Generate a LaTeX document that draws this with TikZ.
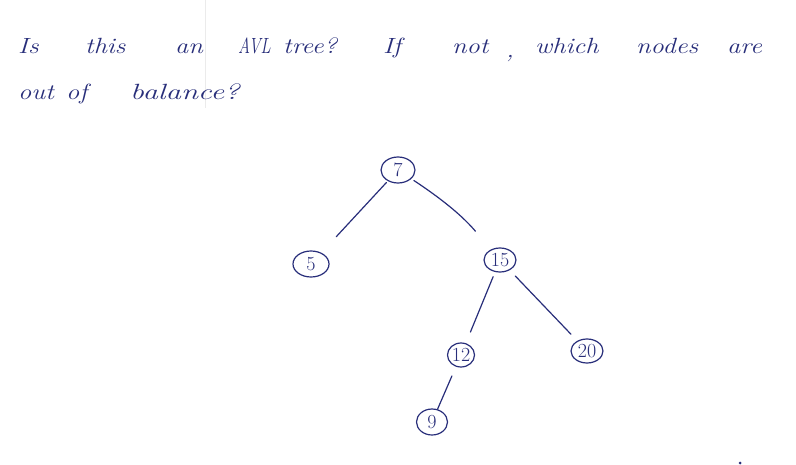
\documentclass[tikz,border=0pt]{standalone}
\usetikzlibrary{shapes.geometric}
\definecolor{ink}{RGB}{40,46,122}
\newcommand{\hw}[2][1.2]{\scalebox{#1}[1]{#2}}
\begin{document}
\begin{tikzpicture}[x=1pt,y=-1pt,
  word/.style={text=ink,font=\fontsize{22}{24}\selectfont\itshape,anchor=base west,inner sep=0pt},
  tnode/.style={ellipse,draw=ink,line width=1.2pt,text=ink,inner sep=0pt,font=\fontsize{20}{20}\selectfont},
  edge/.style={draw=ink,line width=1.2pt,line cap=round}]
\useasboundingbox (0,0) rectangle (796,465);
\fill[white] (0,0) rectangle (796,465);
\draw[black!8,line width=0.6pt] (205,0) -- (205,108);
% question text, line 1
\node[word] (w1) at (18,54) {\hw{Is}};
\node[word] (w2) at (85,54) {\hw{this}};
\node[word] (w3) at (175,54) {\hw{an}};
\node[word] (w4) at (238,54) {\hw[0.75]{AVL}};
\node[word] (w5) at (283,54) {\hw{tree?}};
\node[word] (w6) at (383,54) {\hw{If}};
\node[word] (w7) at (452,54) {\hw{not}};
\node[word] (w8) at (506,58) {\hw{,}};
\node[word] (w9) at (535,54) {\hw{which}};
\node[word] (w10) at (636,54) {\hw{nodes}};
\node[word] (w11) at (727,54) {\hw{are}};
% line 2
\node[word] (w12) at (18,100) {\hw{out}};
\node[word] (w13) at (66,100) {\hw{of}};
\node[word] (w14) at (130,100) {\hw[1.4]{balance?}};
% tree
\node[tnode,minimum width=34pt,minimum height=26pt] (n7) at (398,170) {7};
\node[tnode,minimum width=36pt,minimum height=26pt] (n5) at (311,264) {5};
\node[tnode,minimum width=32pt,minimum height=24pt] (n15) at (500,260) {15};
\node[tnode,minimum width=27pt,minimum height=24pt] (n12) at (461,355) {12};
\node[tnode,minimum width=32pt,minimum height=24pt] (n20) at (587,351) {20};
\node[tnode,minimum width=31pt,minimum height=26pt] (n9) at (432,422) {9};
\draw[edge,shorten <=2pt,shorten >=22pt] (n7) -- (n5);
\draw[edge,shorten <=3pt,shorten >=24pt] (n7) to[bend left=8] (n15);
\draw[edge,shorten <=5pt,shorten >=12pt] (n15) -- (n12);
\draw[edge,shorten <=8pt,shorten >=9pt] (n15) -- (n20);
\draw[edge,shorten <=10pt,shorten >=0pt] (n12) -- (n9);
\fill[ink] (740,463) circle (1.5pt);
\end{tikzpicture}
\end{document}
